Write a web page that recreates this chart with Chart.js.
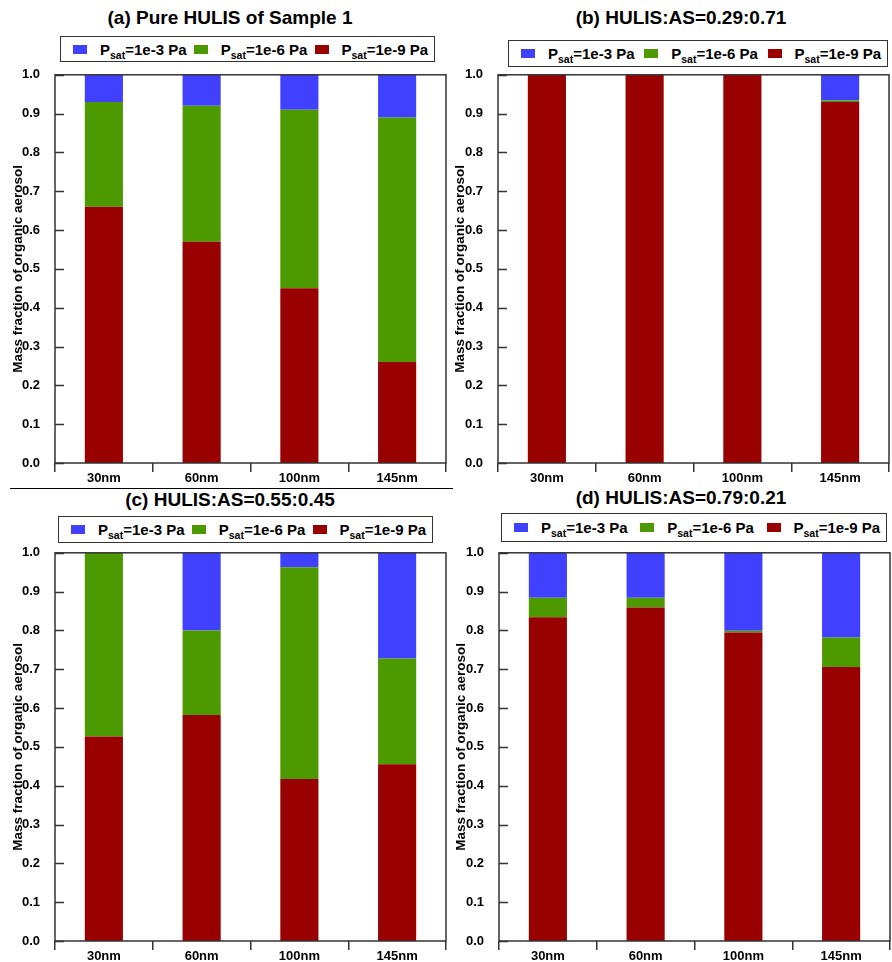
<!DOCTYPE html>
<html>
<head>
<meta charset="utf-8">
<script src="https://cdn.jsdelivr.net/npm/chart.js@4.4.1/dist/chart.umd.min.js"></script>
<style>
  html, body { margin:0; padding:0; background:#fff; overflow:hidden; }
  #wrap { position:relative; width:892px; height:962px; font-family:"Liberation Sans", Arial, sans-serif; }
  .title { position:absolute; font-weight:bold; font-size:19px; color:#000; text-align:center; white-space:nowrap; line-height:20px; }
  .legend { position:absolute; box-sizing:border-box; border:1.5px solid #333; display:flex; align-items:center; justify-content:space-between; padding:0 6px 0 12px; font-weight:bold; font-size:15px; color:#000; white-space:nowrap; }
  .legend .it { display:flex; align-items:center; }
  .legend .sw { display:inline-block; width:14px; height:9px; margin-right:13px; }
  .legend sub { font-size:10.5px; line-height:0; vertical-align:-4px; }
  canvas { position:absolute; }
  .sep { position:absolute; height:1px; background:#000; }
</style>
</head>
<body>
<div id="wrap">
  <div class="title" style="left:0;width:460px;top:8px;">(a) Pure HULIS of Sample 1</div>
  <div class="title" style="left:450px;width:462px;top:8px;">(b) HULIS:AS=0.29:0.71</div>
  <div class="title" style="left:0;width:460px;top:490px;">(c) HULIS:AS=0.55:0.45</div>
  <div class="title" style="left:450px;width:462px;top:488px;">(d) HULIS:AS=0.79:0.21</div>

  <div class="legend" id="legA" style="left:60px;top:36px;width:375px;height:26px;"></div>
  <div class="legend" id="legB" style="left:508px;top:40px;width:380px;height:27px;"></div>
  <div class="legend" id="legC" style="left:58px;top:516px;width:375px;height:27px;"></div>
  <div class="legend" id="legD" style="left:501px;top:513px;width:386px;height:29px;"></div>

  <div class="sep" style="left:10px;top:488px;width:443px;"></div>

  <canvas id="cA" width="452" height="432" style="left:0px;top:60px;width:452px;height:432px;"></canvas>
  <canvas id="cB" width="452" height="432" style="left:442px;top:60px;width:452px;height:432px;"></canvas>
  <canvas id="cC" width="452" height="432" style="left:0px;top:538px;width:452px;height:432px;"></canvas>
  <canvas id="cD" width="452" height="432" style="left:443px;top:538px;width:452px;height:432px;"></canvas>
</div>
<script>
// ---- data ----
const categories = ['30nm', '60nm', '100nm', '145nm'];
const seriesNames = ['1e-3', '1e-6', '1e-9'];
const yTicks = [0.0, 0.1, 0.2, 0.3, 0.4, 0.5, 0.6, 0.7, 0.8, 0.9, 1.0];

// (a) Pure HULIS of Sample 1
const a_p9 = [0.66, 0.57, 0.45, 0.26];
const a_p6 = [0.27, 0.35, 0.46, 0.63];
const a_p3 = [0.07, 0.08, 0.09, 0.11];
// (b) HULIS:AS=0.29:0.71
const b_p9 = [1.0, 1.0, 1.0, 0.93];
const b_p6 = [0.0, 0.0, 0.0, 0.004];
const b_p3 = [0.0, 0.0, 0.0, 0.066];
// (c) HULIS:AS=0.55:0.45
const c_p9 = [0.527, 0.582, 0.417, 0.455];
const c_p6 = [0.473, 0.218, 0.546, 0.273];
const c_p3 = [0.0, 0.20, 0.037, 0.272];
// (d) HULIS:AS=0.79:0.21
const d_p9 = [0.834, 0.859, 0.795, 0.706];
const d_p6 = [0.050, 0.025, 0.004, 0.076];
const d_p3 = [0.116, 0.116, 0.201, 0.218];

const COL3 = '#4040ff', COL6 = '#4c9900', COL9 = '#990000';

// ---- legends (HTML, real text with subscript) ----
function buildLegend(id) {
  const el = document.getElementById(id);
  const cols = [COL3, COL6, COL9];
  el.innerHTML = seriesNames.map((n, i) =>
    '<span class="it"><span class="sw" style="background:' + cols[i] + '"></span><span>P<sub>sat</sub>=' + n + ' Pa</span></span>'
  ).join('');
}
['legA', 'legB', 'legC', 'legD'].forEach(buildLegend);

// ---- plugin: frame + inward y ticks ----
const framePlugin = {
  id: 'frame',
  afterDraw(chart) {
    const ctx = chart.ctx, ca = chart.chartArea, ys = chart.scales.y;
    ctx.save();
    ctx.strokeStyle = '#333';
    ctx.lineWidth = 1.5;
    ctx.strokeRect(ca.left, ca.top, ca.right - ca.left, ca.bottom - ca.top);
    ctx.beginPath();
    ys.ticks.forEach((t, i) => {
      const py = Math.round(ys.getPixelForTick(i)) + 0.5;
      ctx.moveTo(ca.left, py);
      ctx.lineTo(ca.left + 9, py);
    });
    ctx.stroke();
    ctx.restore();
  }
};

function makeChart(id, p9, p6, p3, yWidth, padRight) {
  const font = { family: '"Liberation Sans", Arial, sans-serif', weight: 'bold', size: 13 };
  return new Chart(document.getElementById(id), {
    type: 'bar',
    data: {
      labels: categories,
      datasets: [
        { label: 'Psat=1e-9 Pa', data: p9, backgroundColor: COL9 },
        { label: 'Psat=1e-6 Pa', data: p6, backgroundColor: COL6 },
        { label: 'Psat=1e-3 Pa', data: p3, backgroundColor: COL3 }
      ]
    },
    options: {
      responsive: false,
      animation: false,
      devicePixelRatio: 1,
      layout: { padding: { top: 11, right: padRight, bottom: 4, left: 0 } },
      plugins: { legend: { display: false }, tooltip: { enabled: false } },
      datasets: { bar: { barPercentage: 0.39, categoryPercentage: 1.0, borderWidth: 0 } },
      scales: {
        x: {
          stacked: true,
          border: { display: false },
          grid: { offset: true, drawOnChartArea: false, drawTicks: true, tickLength: 9, color: '#333', lineWidth: 1.5 },
          ticks: { color: '#000', font: font, padding: -1, maxRotation: 0 },
          afterFit(s) { s.height = 25; }
        },
        y: {
          stacked: true,
          min: 0, max: 1,
          border: { display: false },
          grid: { display: false },
          afterBuildTicks(s) { s.ticks = yTicks.map(v => ({ value: v })); },
          ticks: { color: '#000', font: font, padding: 7, callback: v => Number(v).toFixed(1) },
          title: { display: true, text: 'Mass fraction of organic aerosol', color: '#000',
                   font: { family: '"Liberation Sans", Arial, sans-serif', weight: 'bold', size: 13.5 },
                   padding: { top: 10, bottom: 0 } },
          afterFit(s) { s.width = yWidth; }
        }
      }
    },
    plugins: [framePlugin]
  });
}

makeChart('cA', a_p9, a_p6, a_p3, 55, 6);
makeChart('cB', b_p9, b_p6, b_p3, 56, 5);
makeChart('cC', c_p9, c_p6, c_p3, 55, 6);
makeChart('cD', d_p9, d_p6, d_p3, 56, 5);
</script>
</body>
</html>
